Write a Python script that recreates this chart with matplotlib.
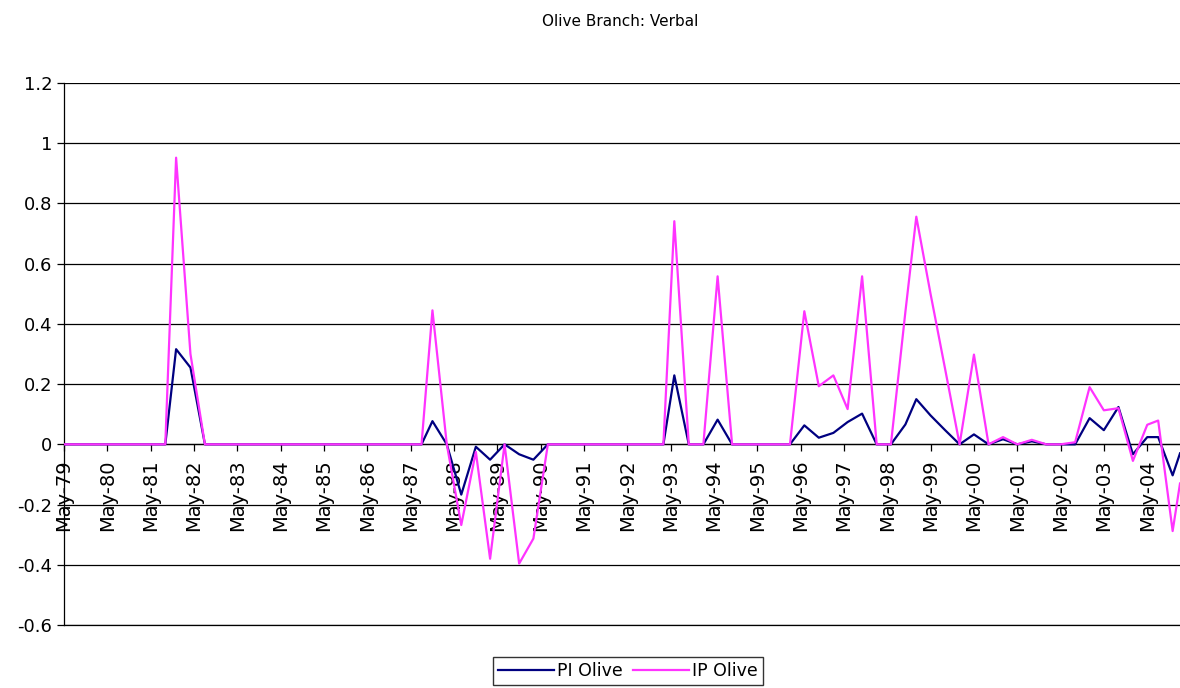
import numpy as np
import pandas as pd
import matplotlib
matplotlib.use("Agg")
import matplotlib.pyplot as plt

# Observation dates (month of each reading)
dates = ['1979-05', '1979-09', '1980-01', '1980-05', '1980-09', '1981-01', '1981-05', '1981-09',
         '1981-12', '1982-04', '1982-08', '1982-12', '1983-04', '1983-08', '1983-12', '1984-04',
         '1984-08', '1984-12', '1985-04', '1985-08', '1985-12', '1986-04', '1986-08', '1986-12',
         '1987-04', '1987-08', '1987-11', '1988-03', '1988-07', '1988-11', '1989-03', '1989-07',
         '1989-11', '1990-03', '1990-07', '1990-11', '1991-03', '1991-07', '1991-11', '1992-03',
         '1992-07', '1992-11', '1993-03', '1993-06', '1993-10', '1994-02', '1994-06', '1994-10',
         '1995-02', '1995-06', '1995-10', '1996-02', '1996-06', '1996-10', '1997-02', '1997-06',
         '1997-10', '1998-02', '1998-06', '1998-10', '1999-01', '1999-05', '1999-09', '2000-01',
         '2000-05', '2000-09', '2001-01', '2001-05', '2001-09', '2002-01', '2002-05', '2002-09',
         '2003-01', '2003-05', '2003-09', '2004-01', '2004-05', '2004-08', '2004-12', '2005-02']

pi_olive = [0, 0, 0, 0, 0, 0, 0, 0,
            0.316, 0.255, 0, 0, 0, 0, 0, 0,
            0, 0, 0, 0, 0, 0, 0, 0,
            0, 0, 0.077, 0, -0.167, -0.008, -0.051, 0,
            -0.033, -0.051, 0, 0, 0, 0, 0, 0,
            0, 0, 0, 0.229, 0, 0, 0.082, 0,
            0, 0, 0, 0, 0.063, 0.022, 0.038, 0.074,
            0.102, 0, 0, 0.066, 0.150, 0.096, 0.047, 0,
            0.033, 0, 0.017, 0, 0.010, 0, 0, 0,
            0.087, 0.047, 0.124, -0.033, 0.024, 0.024, -0.103, -0.030]

ip_olive = [0, 0, 0, 0, 0, 0, 0, 0,
            0.952, 0.300, 0, 0, 0, 0, 0, 0,
            0, 0, 0, 0, 0, 0, 0, 0,
            0, 0, 0.445, 0, -0.268, -0.025, -0.380, 0,
            -0.396, -0.313, 0, 0, 0, 0, 0, 0,
            0, 0, 0, 0.741, 0, 0, 0.558, 0,
            0, 0, 0, 0, 0.442, 0.193, 0.229, 0.117,
            0.558, 0, 0, 0.440, 0.756, 0.500, 0.250, 0,
            0.298, 0, 0.024, 0, 0.015, 0, 0, 0.007,
            0.190, 0.113, 0.120, -0.055, 0.065, 0.079, -0.288, -0.130]

tick_years = list(range(1979, 2005))
ytick_vals = [-0.6, -0.4, -0.2, 0, 0.2, 0.4, 0.6, 0.8, 1, 1.2]
ytick_labels = ['-0.6', '-0.4', '-0.2', '0', '0.2', '0.4', '0.6', '0.8', '1', '1.2']

x = pd.to_datetime(dates)

fig = plt.figure(figsize=(11.8, 6.88), dpi=100)
ax = fig.add_axes([64 / 1180, 1 - 625 / 688, 1 - 64 / 1180, (625 - 83) / 688])

# move the x axis onto the zero line first (this resets the ticks)
ax.spines['bottom'].set_position(('data', 0))
ax.spines['top'].set_visible(False)
ax.spines['right'].set_visible(False)
ax.spines['bottom'].set_linewidth(0.9)
ax.spines['left'].set_linewidth(0.9)

ax.plot(x, pi_olive, color='#000080', lw=1.6, label='PI Olive', zorder=3)
ax.plot(x, ip_olive, color='#FF33FF', lw=1.6, label='IP Olive', zorder=3)

ax.set_xlim(pd.Timestamp('1979-05-01'), pd.Timestamp('2005-02-01'))
ax.set_ylim(-0.6, 1.2)

ticks = [pd.Timestamp(f'{y}-05-01') for y in tick_years]
ax.set_xticks(ticks)
ax.set_xticklabels([t.strftime('%b-%y') for t in ticks])
ax.tick_params(axis='x', labelrotation=90, pad=6, labelsize=14)

ax.set_yticks(ytick_vals)
ax.set_yticklabels(ytick_labels)
ax.tick_params(axis='y', labelsize=13)
ax.yaxis.grid(True, color='black', lw=0.9)
ax.axhline(-0.6, color='black', lw=0.9, clip_on=False, zorder=1)
ax.set_axisbelow(True)
ax.tick_params(axis='both', length=5, width=0.9, direction='out')

fig.text(620 / 1180, 1 - 22 / 688, 'Olive Branch: Verbal', ha='center', va='center', fontsize=11)

fig.legend(loc='center', bbox_to_anchor=(628 / 1180, 1 - 671 / 688), ncol=2,
           fontsize=12.5, frameon=True, fancybox=False, edgecolor='black',
           handlelength=3.2, handletextpad=0.2, columnspacing=0.6, borderpad=0.3)

fig.savefig('out.png', dpi=100)
